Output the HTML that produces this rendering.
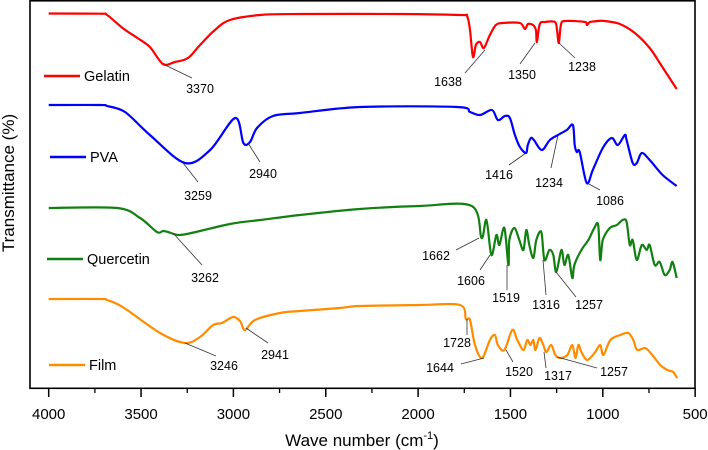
<!DOCTYPE html>
<html><head><meta charset="utf-8">
<style>
html,body{margin:0;padding:0;background:#fff;}
svg{display:block;font-family:"Liberation Sans",Arial,sans-serif;}
</style></head>
<body>
<svg id="chart" width="708" height="450" viewBox="0 0 708 450" xmlns="http://www.w3.org/2000/svg">
<rect x="30" y="0.8" width="665" height="387.5" fill="none" stroke="#000" stroke-width="1.6"/>
<g id="ticks"></g>
<g id="series"></g>
<g id="annots"></g>
<g id="legend"></g>
<text x="362" y="446" font-size="17" text-anchor="middle">Wave number (cm<tspan font-size="11" dy="-7">-1</tspan><tspan dy="7">)</tspan></text>
<text transform="translate(14,183) rotate(-90)" font-size="17" text-anchor="middle">Transmittance (%)</text>
</svg>
<script>
const tickValues = [4000,3500,3000,2500,2000,1500,1000,500];
const minorTicks = [3750,3250,2750,2250,1750,1250,750];
const gelatinW = [4000,3722,3684,3600,3520,3452,3381,3316,3246,3181,3100,3019,2856,2640,2098,1773,1735,1719,1703,1687,1665,1644,1611,1579,1541,1449,1422,1405,1378,1362,1357,1341,1314,1259,1248,1238,1227,1205,1097,1086,1070,1027,989,908,827,746,681,600];
const gelatinT = [386.5,386.3,385,372,362,353,336,338,342,355,370,380,385,386,386,385,384,370,343,355,358,352,365,375,377,377,371,376,375,370,358,376,378,378,370,357,375,379,378,375,378,379,379,376,367,352,334,311];
const pvaW = [4000,3720,3684,3587,3452,3262,3126,2990,2946,2910,2872,2786,2640,2315,1790,1719,1665,1600,1568,1530,1503,1476,1449,1416,1406,1389,1373,1330,1287,1243,1195,1162,1152,1141,1125,1087,1054,1000,952,919,881,871,838,816,789,746,676,600];
const pvaT = [295,295,294,288,265,237,250,282,257,258,272,284,287,293,293,288,285,290,280,284,282,265,253,247,255,262,260,250,260,265,270,275,255,248,248,217,230,252,262,255,265,260,237,237,247,240,225,214];
const querW = [4000,3630,3505,3414,3381,3354,3289,3181,3019,2856,2640,2315,1990,1709,1657,1630,1603,1576,1560,1533,1511,1506,1479,1452,1430,1414,1398,1376,1360,1333,1316,1289,1268,1252,1224,1208,1187,1165,1154,1116,1078,1046,1025,1014,1000,962,924,892,871,854,838,816,789,762,746,719,692,665,638,622,600];
const querT = [192,192,182,168,169,168,165,169,176,180,185,191,194,194,162,180,145,165,155,172,135,160,172,160,150,170,155,142,160,168,140,150,145,128,150,135,145,122,135,150,160,172,175,140,160,172,175,180,178,155,160,140,155,150,155,135,138,125,130,138,122];
const filmW = [4000,3720,3684,3600,3397,3262,3181,3110,3062,3002,2964,2937,2883,2748,2640,2423,2315,1990,1773,1741,1719,1692,1654,1611,1584,1568,1533,1490,1463,1430,1409,1392,1376,1365,1343,1322,1306,1279,1257,1230,1192,1165,1148,1132,1116,1084,1041,1014,997,959,905,862,835,814,770,732,689,651,619,598];
const filmT = [101,101,100,93,67,57,63,75,77,83,79,70,80,87,89,92,94,95,95,81,80,55,42,60,65,55,50,70,60,50,60,55,60,50,62,55,48,55,45,42,45,55,42,55,48,40,48,55,45,60,65,67,60,50,52,45,35,30,28,22];
const seriesNames = ["Gelatin","PVA","Quercetin","Film"];
const seriesColors = ["#ff0000","#0000ff","#118011","#ff8c00"];
const seriesW = [gelatinW,pvaW,querW,filmW];
const seriesT = [gelatinT,pvaT,querT,filmT];
const legendY = [76,157,259,365];
const legendX = [44,50,47,49];
const peakLabels = ["3370","3259","2940","3262","3246","2941","1638","1350","1238","1416","1234","1086","1662","1606","1519","1316","1257","1728","1644","1520","1317","1257"];
const peakAnn = [
[165,65,192,78,200,93],[183,163,198,182,198,200],[248,143,260,162,263,178],[173,233,202,265,205,282],
[185,343,216,356,224,370],[246,328,268,343,275,359],[485,50,465,73,448,86],[535,43,520,64,522,79],
[559,43,575,58,582,71],[526,153,509,165,499,179],[558,135,551,168,549,187],[587,183,600,190,610,205],
[479,238,456,250,436,260],[490,255,480,270,471,285],[507,265,507,290,506,302],[543,260,546,295,546,309],
[556,272,576,297,589,309],[467,319,467,335,457,347],[484,358,461,364,440,372],[506,350,513,362,519,376],
[544,352,546,368,558,380],[557,357,597,368,614,376]];
const NS="http://www.w3.org/2000/svg";
const xS = w => 48.7 + (4000 - w) * 0.1847;
const yS = t => 400 - t;
function mk(tag, attrs, parent){const e=document.createElementNS(NS,tag);for(const k in attrs)e.setAttribute(k,attrs[k]);parent.appendChild(e);return e;}
function smooth(pts){
  let d='M'+pts[0][0].toFixed(1)+','+pts[0][1].toFixed(1);
  const k=0.16;
  for(let i=0;i<pts.length-1;i++){
    const p0=pts[Math.max(0,i-1)],p1=pts[i],p2=pts[i+1],p3=pts[Math.min(pts.length-1,i+2)];
    const c1=[p1[0]+(p2[0]-p0[0])*k,p1[1]+(p2[1]-p0[1])*k];
    const c2=[p2[0]-(p3[0]-p1[0])*k,p2[1]-(p3[1]-p1[1])*k];
    d+=' C'+c1[0].toFixed(1)+','+c1[1].toFixed(1)+' '+c2[0].toFixed(1)+','+c2[1].toFixed(1)+' '+p2[0].toFixed(1)+','+p2[1].toFixed(1);
  }
  return d;
}
const tg=document.getElementById('ticks');
tickValues.forEach(v=>{
  const l=mk('line',{x1:xS(v),x2:xS(v),y1:388,y2:397,stroke:'#000','stroke-width':1.5},tg);
  
  
  const t=mk('text',{x:xS(v),y:419,'font-size':15,'text-anchor':'middle'},tg);
  t.textContent=v;
  
  
});
minorTicks.forEach(v=>{
  const l=mk('line',{x1:xS(v),x2:xS(v),y1:388,y2:393,stroke:'#000','stroke-width':1.3},tg);
  
  
});
const sg=document.getElementById('series'), lg=document.getElementById('legend');
seriesNames.forEach((n,i)=>{
  const pts=seriesW[i].map((w,j)=>[xS(w),yS(seriesT[i][j])]);
  const p=mk('path',{d:smooth(pts),fill:'none',stroke:seriesColors[i],'stroke-width':2.2,'stroke-linejoin':'round'},sg);
  
  
  const l=mk('line',{x1:legendX[i],x2:legendX[i]+36,y1:legendY[i],y2:legendY[i],stroke:seriesColors[i],'stroke-width':2.5},lg);
  
  
  const t=mk('text',{x:legendX[i]+40,y:legendY[i]+5,'font-size':14.5},lg);
  t.textContent=n;
  
  
});
const ag=document.getElementById('annots');
peakAnn.forEach((a,i)=>{
  const l=mk('line',{x1:a[0],y1:a[1],x2:a[2],y2:a[3],stroke:'#333','stroke-width':0.8},ag);
  
  
  const t=mk('text',{x:a[4],y:a[5],'font-size':12.5,'text-anchor':'middle'},ag);
  t.textContent=peakLabels[i];
  
  
});
</script>
</body></html>
